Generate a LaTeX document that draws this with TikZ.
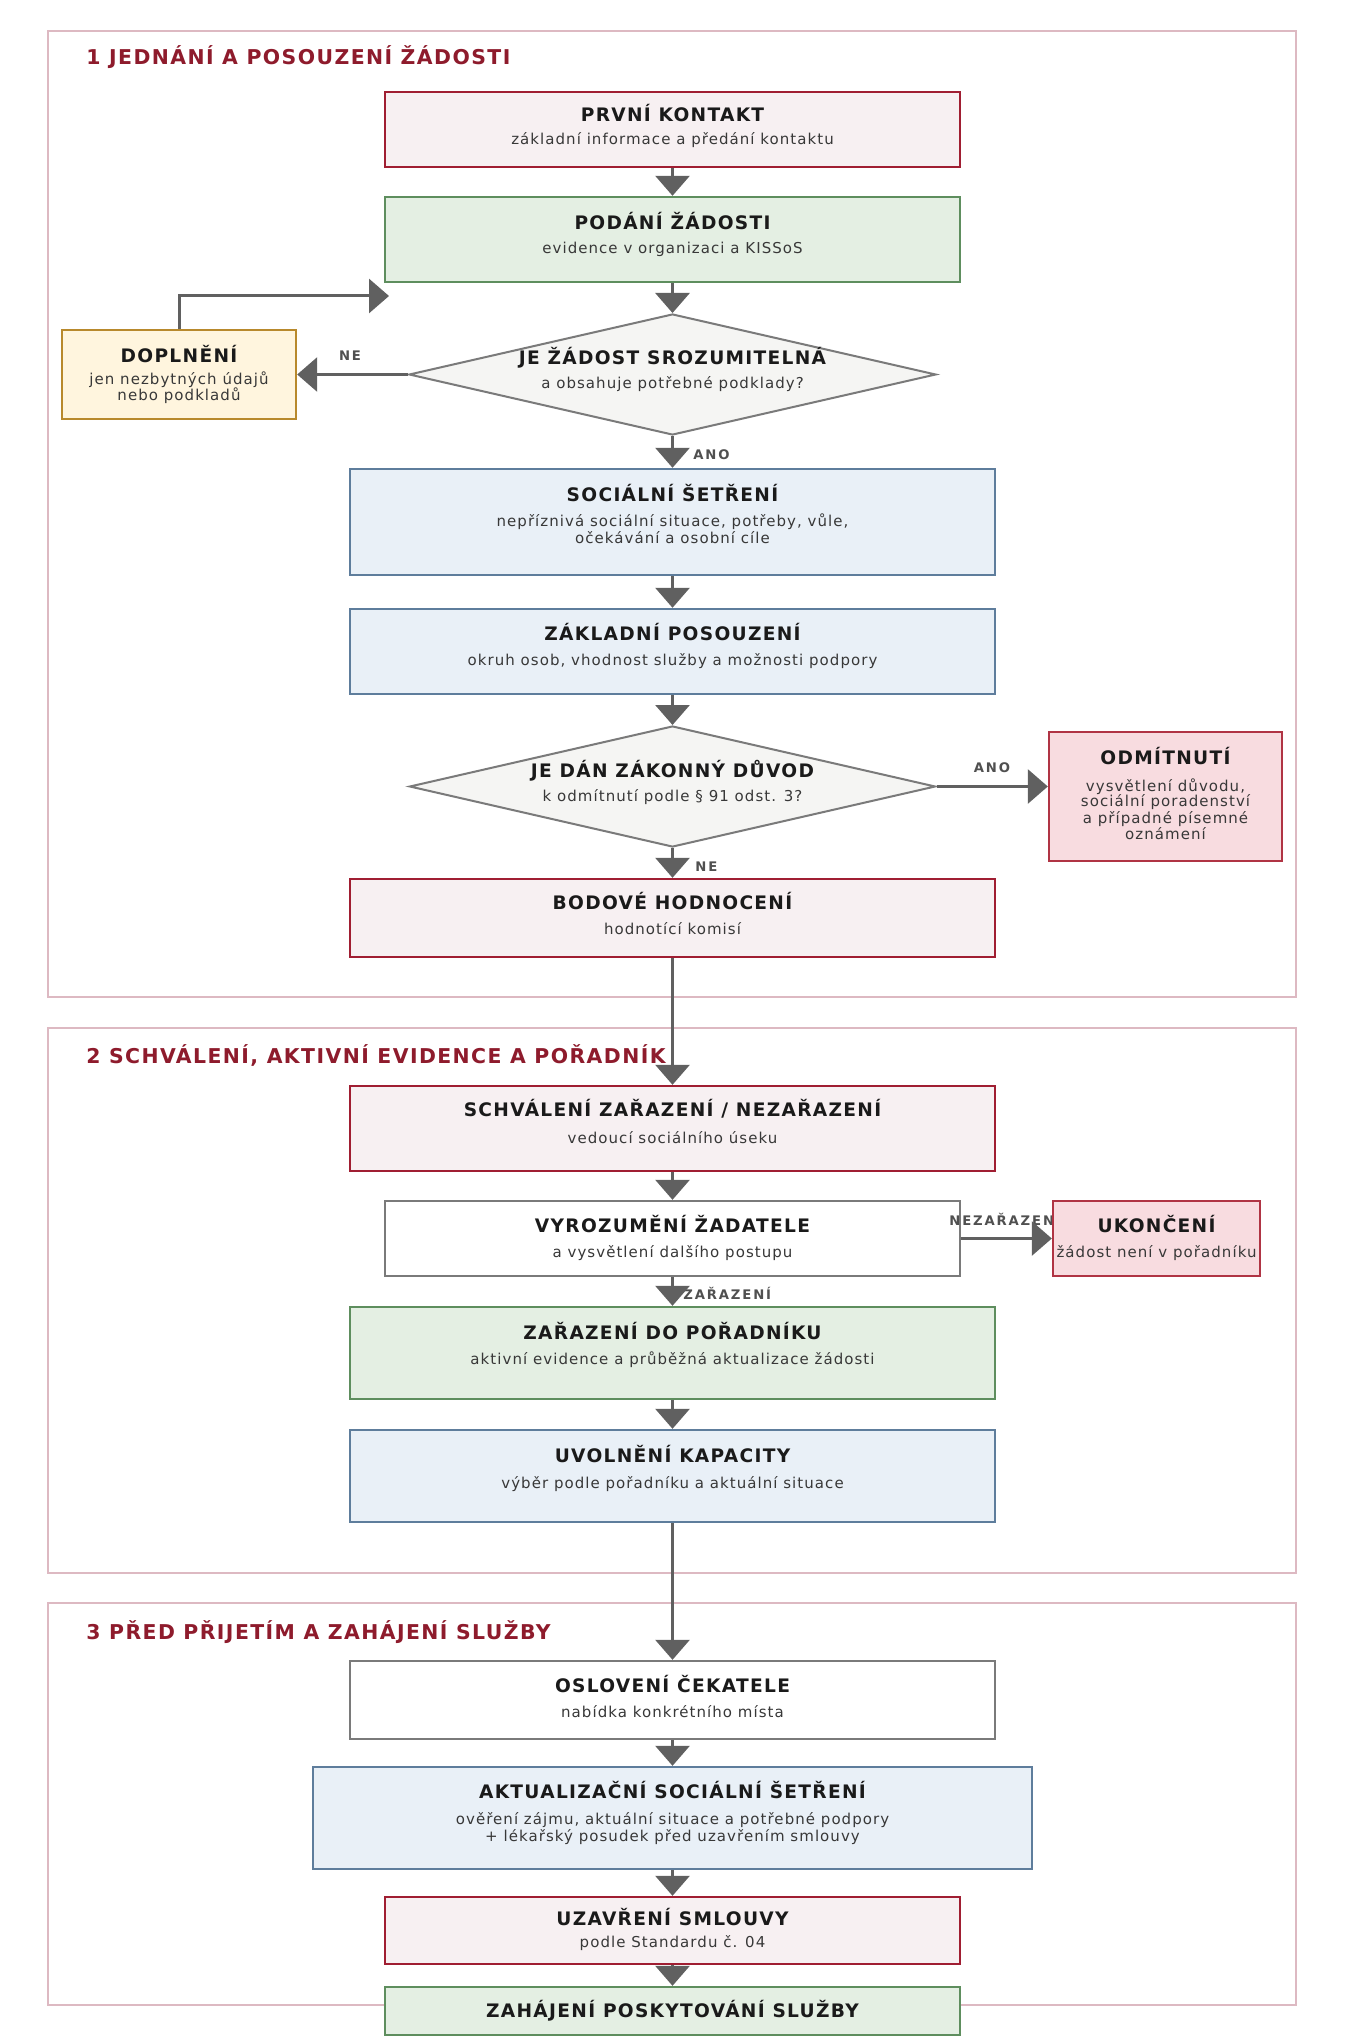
\documentclass[tikz,border=0pt]{standalone}
\usepackage{fontspec}
\setmainfont{DejaVu Sans}[LetterSpace=7]
\newfontfamily\lblfont{DejaVu Sans}[LetterSpace=14]
\usetikzlibrary{arrows.meta,shapes.geometric}
\definecolor{redB}{HTML}{A01E32}
\definecolor{redF}{HTML}{F7F0F2}
\definecolor{grnB}{HTML}{5E8E5E}
\definecolor{grnF}{HTML}{E4EFE3}
\definecolor{bluB}{HTML}{5E7D9C}
\definecolor{bluF}{HTML}{E9F0F7}
\definecolor{yelB}{HTML}{B8892C}
\definecolor{yelF}{HTML}{FFF5DE}
\definecolor{pnkB}{HTML}{B03444}
\definecolor{pnkF}{HTML}{F8DCE0}
\definecolor{gryB}{HTML}{7A7A7A}
\definecolor{dmdF}{HTML}{F5F5F3}
\definecolor{frmC}{HTML}{DDB9C2}
\definecolor{arrC}{HTML}{606060}
\definecolor{sectC}{HTML}{8E1B2C}
\definecolor{ttlC}{HTML}{1A1A1A}
\definecolor{subC}{HTML}{383838}
\definecolor{lblC}{HTML}{505050}
\tikzset{
  bx/.style={rectangle, draw, line width=1.2pt, inner sep=0pt},
  sz/.style 2 args={minimum width=#1*0.5pt, minimum height=#2*0.5pt},
  cred/.style={bx, draw=redB, fill=redF},
  cgrn/.style={bx, draw=grnB, fill=grnF},
  cblu/.style={bx, draw=bluB, fill=bluF},
  cyel/.style={bx, draw=yelB, fill=yelF},
  cpnk/.style={bx, draw=pnkB, fill=pnkF},
  cwht/.style={bx, draw=gryB, fill=white},
  dmd/.style={diamond, draw=gryB, fill=dmdF, line width=1pt, inner sep=0pt},
  frame/.style={draw=frmC, line width=0.8pt},
  sect/.style={anchor=base west, inner sep=0pt, text=sectC, font=\bfseries\fontsize{10.2}{12}\selectfont},
  ttl/.style={anchor=base, inner sep=0pt, text=ttlC, font=\bfseries\fontsize{9.3}{11}\selectfont},
  sub/.style={anchor=base, inner sep=0pt, text=subC, font=\fontsize{7.5}{9}\selectfont},
  lbl/.style={inner sep=0pt, text=lblC, font=\lblfont\bfseries\fontsize{6.6}{7.5}\selectfont},
  arw/.style={draw=arrC, line width=1.5pt, -{Triangle[width=17pt,length=10pt]}},
}
\begin{document}
\begin{tikzpicture}[x=0.5pt,y=-0.5pt]
\path[fill=white, use as bounding box] (0,0) rectangle (1345,2043);
% frames
\draw[frame] (48,31) rectangle (1296,997);
\draw[frame] (48,1028) rectangle (1296,1573);
\draw[frame] (48,1603) rectangle (1296,2005);
\node[sect] (sec1) at (86,65) {1 JEDNÁNÍ A POSOUZENÍ ŽÁDOSTI};
\node[sect] (sec2) at (86,1063) {2 SCHVÁLENÍ, AKTIVNÍ EVIDENCE A POŘADNÍK};
\node[sect] (sec3) at (86,1639) {3 PŘED PŘIJETÍM A ZAHÁJENÍ SLUŽBY};
% boxes
\node[cred, sz={575}{75}] (prv) at (672.5,129.5) {};
\node[ttl] (prvT) at (672.5,121.5) {PRVNÍ KONTAKT};
\node[sub] (prvS) at (672.5,145) {základní informace a předání kontaktu};

\node[cgrn, sz={575}{85}] (pod) at (672.5,239.5) {};
\node[ttl] (podT) at (672.5,229.5) {PODÁNÍ ŽÁDOSTI};
\node[sub] (podS) at (672.5,253.5) {evidence v organizaci a KISSoS};

\node[dmd, sz={527}{121}] (d1) at (672.5,374.5) {};
\node[ttl] (d1T) at (672.5,365) {JE ŽÁDOST SROZUMITELNÁ};
\node[sub] (d1S) at (672.5,389) {a obsahuje potřebné podklady?};

\node[cyel, sz={234}{89}] (dop) at (179,374.5) {};
\node[ttl] (dopT) at (179,362.5) {DOPLNĚNÍ};
\node[sub] (dopS1) at (179,385) {jen nezbytných údajů};
\node[sub] (dopS2) at (179,401) {nebo podkladů};

\node[cblu, sz={645}{106}] (soc) at (672.5,522) {};
\node[ttl] (socT) at (672.5,501.5) {SOCIÁLNÍ ŠETŘENÍ};
\node[sub] (socS1) at (672.5,526) {nepříznivá sociální situace, potřeby, vůle,};
\node[sub] (socS2) at (672.5,543) {očekávání a osobní cíle};

\node[cblu, sz={645}{85}] (zak) at (672.5,651.5) {};
\node[ttl] (zakT) at (672.5,640.5) {ZÁKLADNÍ POSOUZENÍ};
\node[sub] (zakS) at (672.5,665) {okruh osob, vhodnost služby a možnosti podpory};

\node[dmd, sz={526}{121}] (d2) at (672.5,786.5) {};
\node[ttl] (d2T) at (672.5,777) {JE DÁN ZÁKONNÝ DŮVOD};
\node[sub] (d2S) at (672.5,801) {k odmítnutí podle § 91 odst. 3?};

\node[cpnk, sz={233}{129}] (odm) at (1165.5,796.5) {};
\node[ttl] (odmT) at (1165.5,764.5) {ODMÍTNUTÍ};
\node[sub] (odmS1) at (1165.5,791) {vysvětlení důvodu,};
\node[sub] (odmS2) at (1165.5,806.5) {sociální poradenství};
\node[sub] (odmS3) at (1165.5,823) {a případné písemné};
\node[sub] (odmS4) at (1165.5,839) {oznámení};

\node[cred, sz={645}{78}] (bod) at (672.5,918) {};
\node[ttl] (bodT) at (672.5,909.5) {BODOVÉ HODNOCENÍ};
\node[sub] (bodS) at (672.5,934) {hodnotící komisí};

\node[cred, sz={645}{85}] (sch) at (672.5,1128.5) {};
\node[ttl] (schT) at (672.5,1116.5) {SCHVÁLENÍ ZAŘAZENÍ / NEZAŘAZENÍ};
\node[sub] (schS) at (672.5,1143) {vedoucí sociálního úseku};

\node[cwht, sz={575}{75}] (vyr) at (672.5,1238.5) {};
\node[ttl] (vyrT) at (672.5,1232.5) {VYROZUMĚNÍ ŽADATELE};
\node[sub] (vyrS) at (672.5,1257) {a vysvětlení dalšího postupu};

\node[lbl, anchor=base west] (lNez) at (949,1225.5) {NEZAŘAZENÍ};
\node[cpnk, sz={207}{75}] (uko) at (1156.5,1238.5) {};
\node[ttl] (ukoT) at (1156.5,1232.5) {UKONČENÍ};
\node[sub] (ukoS) at (1156.5,1257) {žádost není v pořadníku};

\node[cgrn, sz={645}{92}] (zar) at (672.5,1353) {};
\node[ttl] (zarT) at (672.5,1339.5) {ZAŘAZENÍ DO POŘADNÍKU};
\node[sub] (zarS) at (672.5,1364) {aktivní evidence a průběžná aktualizace žádosti};

\node[cblu, sz={645}{92}] (uvo) at (672.5,1476) {};
\node[ttl] (uvoT) at (672.5,1462) {UVOLNĚNÍ KAPACITY};
\node[sub] (uvoS) at (672.5,1488) {výběr podle pořadníku a aktuální situace};

\node[cwht, sz={645}{78}] (osl) at (672.5,1700) {};
\node[ttl] (oslT) at (672.5,1692.5) {OSLOVENÍ ČEKATELE};
\node[sub] (oslS) at (672.5,1717) {nabídka konkrétního místa};

\node[cblu, sz={719}{102}] (akt) at (672.5,1818) {};
\node[ttl] (aktT) at (672.5,1798.5) {AKTUALIZAČNÍ SOCIÁLNÍ ŠETŘENÍ};
\node[sub] (aktS1) at (672.5,1824) {ověření zájmu, aktuální situace a potřebné podpory};
\node[sub] (aktS2) at (672.5,1841) {+ lékařský posudek před uzavřením smlouvy};

\node[cred, sz={575}{67}] (uza) at (672.5,1930.5) {};
\node[ttl] (uzaT) at (672.5,1925.5) {UZAVŘENÍ SMLOUVY};
\node[sub] (uzaS) at (672.5,1947.5) {podle Standardu č. 04};

\node[cgrn, sz={575}{48}] (zah) at (672.5,2011) {};
\node[ttl] (zahT) at (672.5,2017.5) {ZAHÁJENÍ POSKYTOVÁNÍ SLUŽBY};

% labels
\node[lbl, anchor=base] (lNe1) at (350,360.5) {NE};
\node[lbl, anchor=base west] (lAno1) at (693,459.5) {ANO};
\node[lbl, anchor=base] (lAno2) at (992,772.5) {ANO};
\node[lbl, anchor=base west] (lNe2) at (695,871.5) {NE};
\node[lbl, anchor=base west] (lZar) at (683,1299.5) {ZAŘAZENÍ};

% connectors
\coordinate (fb) at (389,296);
\draw[arw] (prv.south) -- (pod.north);
\draw[arw] (pod.south) -- (d1.north);
\draw[arw] (d1.west) -- (dop.east);
\draw[arw] (dop.north) |- (fb);
\draw[arw] (d1.south) -- (soc.north);
\draw[arw] (soc.south) -- (zak.north);
\draw[arw] (zak.south) -- (d2.north);
\draw[arw] (d2.east) -- (d2.east -| odm.west);
\draw[arw] (d2.south) -- (bod.north);
\draw[arw] (bod.south) -- (sch.north);
\draw[arw] (sch.south) -- (vyr.north);
\draw[arw] (vyr.east) -- (uko.west);
\draw[arw] (vyr.south) -- (zar.north);
\draw[arw] (zar.south) -- (uvo.north);
\draw[arw] (uvo.south) -- (osl.north);
\draw[arw] (osl.south) -- (akt.north);
\draw[arw] (akt.south) -- (uza.north);
\draw[arw] (uza.south) -- (zah.north);
\end{tikzpicture}
\end{document}
